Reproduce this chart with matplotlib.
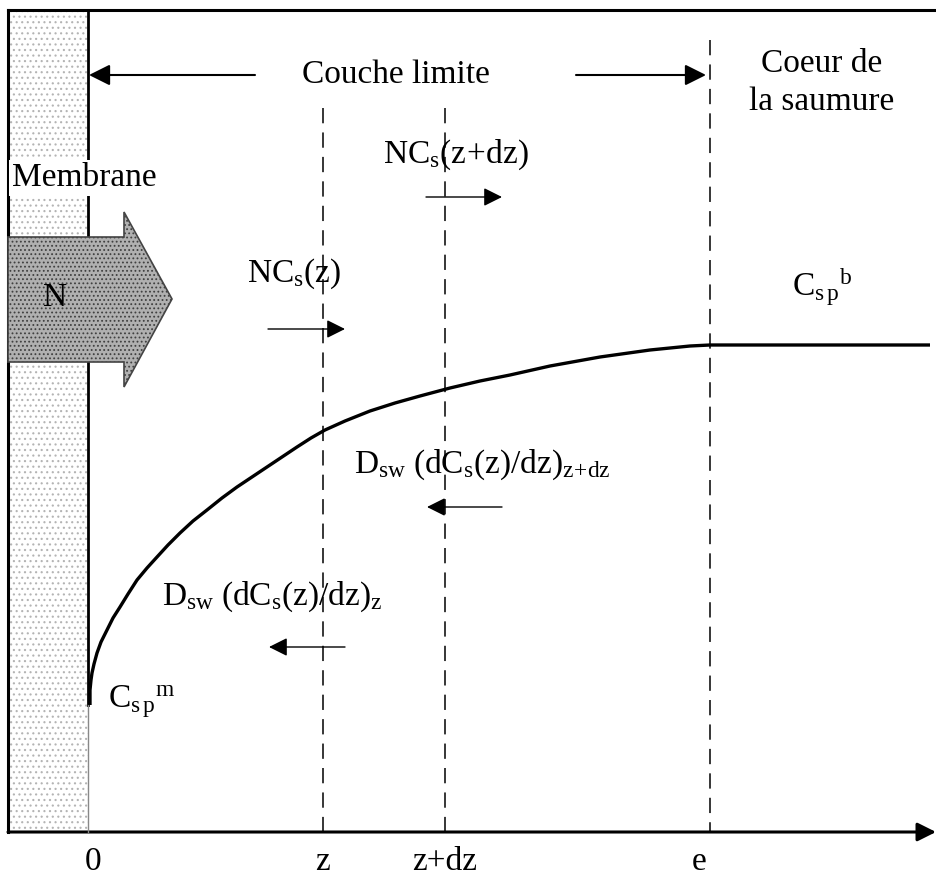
import matplotlib
matplotlib.use("Agg")
import matplotlib.pyplot as plt
from matplotlib.patches import Rectangle, Polygon

plt.rcParams['font.family'] = ['Liberation Serif', 'DejaVu Serif']
plt.rcParams['mathtext.fontset'] = 'custom'
plt.rcParams['mathtext.rm'] = 'Liberation Serif'
plt.rcParams['mathtext.it'] = 'Liberation Serif:italic'
plt.rcParams['mathtext.bf'] = 'Liberation Serif:bold'
plt.rcParams['hatch.linewidth'] = 0.8

# concentration profile in the boundary layer (picture pixel coords)
curve_x = [90, 90, 91, 92, 94, 97, 101, 107, 113, 120,
           128, 137, 147, 157, 168, 180, 193, 207, 222, 237,
           252, 267, 282, 297, 311, 325, 345, 370, 395, 420,
           450, 480, 510, 550, 600, 650, 690, 710, 930]
curve_y = [705, 690, 680, 673, 664, 653, 642, 630, 618, 607,
           594, 580, 568, 557, 545, 533, 521, 510, 498, 487,
           477, 467, 457, 447, 438, 430, 421, 411, 403, 396,
           388, 381, 375, 366, 357, 350, 346, 345, 345]

# positions along z axis and their labels
pos_x = [88, 323, 445, 710]
tick_x = [93, 323, 445, 699]
tick_labels = ['0', 'z', 'z+dz', 'e']
dash_top = [None, 108, 108, 40]

fs = 24

fig = plt.figure(figsize=(9.36, 8.76), dpi=100)
ax = fig.add_axes([0, 0, 1, 1])
ax.set_xlim(0, 936)
ax.set_ylim(876, 0)
ax.axis('off')

axis_y = 832

# membrane (stippled)
ax.add_patch(Rectangle((8, 10), 80, axis_y - 10, facecolor='white',
                       edgecolor='#b4b4b4', hatch='...', lw=0, zorder=1))

# frame
ax.plot([8, 936], [10, 10], color='black', lw=2.2, zorder=3)
ax.plot([8, 8], [10, axis_y], color='black', lw=2.2, zorder=3)
ax.annotate('', xy=(936, axis_y), xytext=(8, axis_y),
            arrowprops=dict(arrowstyle='-|>', color='black', lw=2.2,
                            mutation_scale=28, shrinkA=0, shrinkB=0), zorder=3)

# membrane boundary
ax.plot([88, 88], [10, 237], color='black', lw=2, zorder=3)
ax.plot([88, 88], [362, 705], color='black', lw=2, zorder=3)
ax.plot([88, 88], [705, axis_y], color='#888888', lw=1, zorder=3)

# flux arrow N
arrow_pts = [(8, 237), (124, 237), (124, 212), (172, 299), (124, 387), (124, 362), (8, 362)]
ax.add_patch(Polygon(arrow_pts, closed=True, facecolor='#b0b0b0',
                     edgecolor='#404040', hatch='....', lw=0, zorder=4))
ax.add_patch(Polygon(arrow_pts, closed=True, fill=False,
                     edgecolor='#444444', lw=1.2, zorder=5))
ax.text(55, 298, 'N', fontsize=fs, ha='center', va='center', zorder=6)

ax.text(12, 178, 'Membrane', fontsize=fs, ha='left', va='center', zorder=6,
        bbox=dict(facecolor='white', edgecolor='none', pad=2))

# dashed lines and labels
for x, top in zip(pos_x, dash_top):
    if top is not None:
        ax.plot([x, x], [top, axis_y], color='black', lw=1.1,
                linestyle=(0, (10, 6)), zorder=2)
for x, lab in zip(tick_x, tick_labels):
    ax.text(x, 862, lab, fontsize=fs, ha='center', va='center')

# concentration curve
ax.plot(curve_x, curve_y, color='black', lw=2.4, solid_joinstyle='round',
        solid_capstyle='butt', zorder=3)

# boundary layer title with arrows
ax.text(396, 75, 'Couche limite', fontsize=fs, ha='center', va='center')
head = dict(arrowstyle='-|>', color='black', lw=1.5, mutation_scale=32,
            shrinkA=0, shrinkB=0)
ax.annotate('', xy=(89, 75), xytext=(255, 75), arrowprops=head)
ax.annotate('', xy=(706, 75), xytext=(576, 75), arrowprops=head)

ax.text(822, 83, 'Coeur de\nla saumure', fontsize=fs, ha='center', va='center',
        linespacing=1.3)

# flux labels
small = dict(arrowstyle='-|>', color='black', lw=1.0, mutation_scale=28,
             shrinkA=0, shrinkB=0)
ax.text(456, 155, r'$\mathrm{NC_s(z\!+\!dz)}$', fontsize=fs, ha='center', va='center')
ax.annotate('', xy=(502, 197), xytext=(426, 197), arrowprops=small)

ax.text(294, 274, r'$\mathrm{NC_s(z)}$', fontsize=fs, ha='center', va='center')
ax.annotate('', xy=(345, 329), xytext=(268, 329), arrowprops=small)

ax.text(354, 465, r'$\mathrm{D_{sw}\ (dC_s(z)/dz)_{z\!+\!dz}}$', fontsize=fs,
        ha='left', va='center')
ax.annotate('', xy=(427, 507), xytext=(502, 507), arrowprops=small)

ax.text(162, 597, r'$\mathrm{D_{sw}\ (dC_s(z)/dz)_z}$', fontsize=fs,
        ha='left', va='center')
ax.annotate('', xy=(269, 647), xytext=(345, 647), arrowprops=small)

ax.text(108, 702, r'$\mathrm{{C_{s\,p}}^{m}}$', fontsize=fs, ha='left', va='center')
ax.text(792, 287, r'$\mathrm{{C_{s\,p}}^{b}}$', fontsize=fs, ha='left', va='center')

fig.savefig('out.png', dpi=100)
